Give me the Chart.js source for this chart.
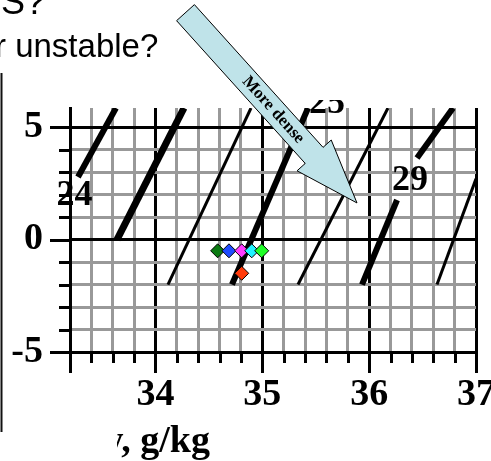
<!DOCTYPE html>
<html>
<head>
<meta charset="utf-8">
<script src="https://cdn.jsdelivr.net/npm/chart.js@4.4.0/dist/chart.umd.min.js"></script>
<style>
  body { margin: 0; background: #fff; }
  canvas { display: block; }
</style>
</head>
<body>
<canvas id="tsChart" width="491" height="461"></canvas>
<script>
// axis ticks (salinity g/kg, temperature C)
var sTicks = [33.2, 33.4, 33.6, 33.8, 34, 34.2, 34.4, 34.6, 34.8, 35, 35.2, 35.4, 35.6, 35.8, 36, 36.2, 36.4, 36.6, 36.8, 37];
var sLabels = [34, 35, 36, 37];
var tTicks = [-5, -4, -3, -2, -1, 0, 1, 2, 3, 4, 5];
var tLabels = [-5, 0, 5];

// density contours (salinity / temperature)
var c1S = [33.63, 33.275], c1T = [5.85, 2.78];
var c2S = [34.267, 33.64], c2T = [5.85, 0];
var c3S = [34.894, 34.117], c3T = [5.85, -2];
var c4S = [35.428, 34.716], c4T = [5.85, -2];
var c5S = [36.176, 35.334], c5T = [5.85, -2];
var c6aS = [36.785, 36.448], c6aT = [5.85, 3.63];
var c6bS = [36.261, 35.933], c6bT = [1.76, -2];
var c7S = [37.0, 36.635], c7T = [2.7, -2];

// contour labels
var labelText = ['24', '25', '29'];
var labelS = [33.242, 35.605, 36.382];
var labelT = [1.54, 5.63, 2.21];

// water samples
var sampleS = [34.582, 34.688, 34.807, 34.901, 34.994, 34.807];
var sampleT = [-0.5, -0.5, -0.5, -0.5, -0.5, -1.5];
var sampleColors = ['#0b7a12', '#1f4cff', '#ff3cff', '#22f4ff', '#20ff28', '#ff3a0a'];

function pts(s, t) {
  return s.map(function (v, i) { return { x: v, y: t[i] }; });
}
function isInt(v) { return Math.abs(v - Math.round(v)) < 1e-6; }

function contour(s, t, w) {
  return {
    type: 'line', data: pts(s, t), borderColor: '#000', borderWidth: w,
    pointRadius: 0, borderCapStyle: 'butt', fill: false, tension: 0
  };
}

var serif = "'Liberation Serif', 'Times New Roman', serif";

var extras = {
  id: 'extras',
  afterDatasetsDraw: function (chart) {
    var ctx = chart.ctx, xs = chart.scales.x, ys = chart.scales.y;
    ctx.save();
    ctx.fillStyle = '#000';
    ctx.font = 'bold 36px ' + serif;
    ctx.textAlign = 'center';
    ctx.textBaseline = 'alphabetic';
    labelText.forEach(function (txt, i) {
      ctx.save();
      if (txt === '25') {
        ctx.beginPath();
        ctx.rect(0, 100, chart.width, chart.height);
        ctx.clip();
      }
      ctx.fillText(txt, xs.getPixelForValue(labelS[i]), ys.getPixelForValue(labelT[i]));
      ctx.restore();
    });
    ctx.restore();
  },
  afterDraw: function (chart) {
    var ctx = chart.ctx, xs = chart.scales.x, ys = chart.scales.y;
    var area = chart.chartArea;
    ctx.save();
    // tick marks
    ctx.strokeStyle = '#000';
    ctx.lineWidth = 3;
    sTicks.forEach(function (v, i) {
      var px = Math.round(xs.getPixelForValue(v)) + 0.5;
      var len = (isInt(v) || i === 0) ? 21 : 11;
      ctx.beginPath();
      ctx.moveTo(px, area.bottom);
      ctx.lineTo(px, area.bottom + len);
      ctx.stroke();
    });
    tTicks.forEach(function (v) {
      var py = Math.round(ys.getPixelForValue(v)) + 0.5;
      var len = tLabels.indexOf(v) >= 0 ? 20 : 11;
      ctx.beginPath();
      ctx.moveTo(area.left - len, py);
      ctx.lineTo(area.left, py);
      ctx.stroke();
    });

    // axis title, its start hidden on the slide
    ctx.save();
    ctx.beginPath();
    ctx.rect(117, 400, 200, 61);
    ctx.clip();
    ctx.font = 'bold 38px ' + serif;
    ctx.textAlign = 'right';
    ctx.textBaseline = 'alphabetic';
    ctx.fillStyle = '#000';
    ctx.fillText('Salinity, g/kg', 210, 452);
    ctx.restore();

    // slide text and frame line
    ctx.fillStyle = '#000';
    ctx.font = "36px 'Liberation Sans', Arial, sans-serif";
    ctx.textAlign = 'left';
    ctx.fillText('S?', 1, 14);
    ctx.font = "33px 'Liberation Sans', Arial, sans-serif";
    ctx.fillText('r unstable?', -5, 57);
    ctx.lineWidth = 2;
    ctx.strokeStyle = '#111';
    ctx.beginPath();
    ctx.moveTo(1.5, 73);
    ctx.lineTo(1.5, 432);
    ctx.stroke();

    // "More dense" arrow
    var tail = { x: xs.getPixelForValue(34.281), y: ys.getPixelForValue(10.09) };
    var tip = { x: xs.getPixelForValue(35.886), y: ys.getPixelForValue(1.628) };
    var dx = tip.x - tail.x, dy = tip.y - tail.y;
    var len = Math.sqrt(dx * dx + dy * dy);
    var ux = dx / len, uy = dy / len, nx = -uy, ny = ux;
    var hw = 12, hh = 23, hl = 64;
    var bx = tip.x - ux * hl, by = tip.y - uy * hl;
    ctx.beginPath();
    ctx.moveTo(tail.x + nx * hw, tail.y + ny * hw);
    ctx.lineTo(bx + nx * hw, by + ny * hw);
    ctx.lineTo(bx + nx * hh, by + ny * hh);
    ctx.lineTo(tip.x, tip.y);
    ctx.lineTo(bx - nx * hh, by - ny * hh);
    ctx.lineTo(bx - nx * hw, by - ny * hw);
    ctx.lineTo(tail.x - nx * hw, tail.y - ny * hw);
    ctx.closePath();
    ctx.fillStyle = '#bfe3e9';
    ctx.fill();
    ctx.lineWidth = 1;
    ctx.strokeStyle = '#000';
    ctx.stroke();

    ctx.translate(tail.x + ux * 131, tail.y + uy * 131);
    ctx.rotate(Math.atan2(uy, ux));
    ctx.font = 'bold 17px ' + serif;
    ctx.textAlign = 'center';
    ctx.textBaseline = 'middle';
    ctx.fillStyle = '#000';
    ctx.fillText('More dense', 0, 0);
    ctx.restore();
  }
};

new Chart(document.getElementById('tsChart'), {
  type: 'scatter',
  data: {
    datasets: [
      {
        type: 'scatter',
        data: pts(sampleS, sampleT),
        pointStyle: 'rectRot',
        pointRadius: 7,
        backgroundColor: sampleColors,
        borderColor: '#000',
        borderWidth: 1
      },
      contour(c1S, c1T, 6),
      contour(c2S, c2T, 7),
      contour(c3S, c3T, 3),
      contour(c4S, c4T, 6),
      contour(c5S, c5T, 3),
      contour(c6aS, c6aT, 6),
      contour(c6bS, c6bT, 6),
      contour(c7S, c7T, 3)
    ]
  },
  options: {
    responsive: false,
    animation: false,
    devicePixelRatio: 1,
    layout: { padding: { top: 108, right: 15, left: 0, bottom: 0 } },
    plugins: { legend: { display: false }, tooltip: { enabled: false } },
    scales: {
      x: {
        type: 'linear', min: 33.2, max: 37,
        afterBuildTicks: function (s) { s.ticks = sTicks.map(function (v) { return { value: v }; }); },
        afterFit: function (s) { s.height = 109; s.paddingLeft = 0; s.paddingRight = 0; },
        grid: {
          drawTicks: false,
          color: function (c) { return c.tick && isInt(c.tick.value) ? '#000' : '#999'; },
          lineWidth: 3
        },
        border: { color: '#000', width: 3 },
        ticks: {
          autoSkip: false, maxRotation: 0, minRotation: 0, padding: 20,
          color: '#000', font: { family: serif, size: 38, weight: 'bold' },
          callback: function (v) { return sLabels.indexOf(Math.round(v * 10) / 10) >= 0 ? String(Math.round(v)) : ''; }
        }
      },
      y: {
        type: 'linear', min: -5, max: 5.85,
        afterBuildTicks: function (s) { s.ticks = tTicks.map(function (v) { return { value: v }; }); },
        afterFit: function (s) { s.width = 70; s.paddingTop = 0; s.paddingBottom = 0; },
        grid: {
          drawTicks: false,
          color: function (c) { return c.tick && (c.tick.value === 0 || c.tick.value === 5) ? '#000' : '#999'; },
          lineWidth: 3
        },
        border: { color: '#000', width: 3 },
        ticks: {
          autoSkip: false, padding: 27,
          color: '#000', font: { family: serif, size: 38, weight: 'bold' },
          callback: function (v) { return tLabels.indexOf(v) >= 0 ? String(v) : ''; }
        }
      }
    }
  },
  plugins: [extras]
});
</script>
</body>
</html>
